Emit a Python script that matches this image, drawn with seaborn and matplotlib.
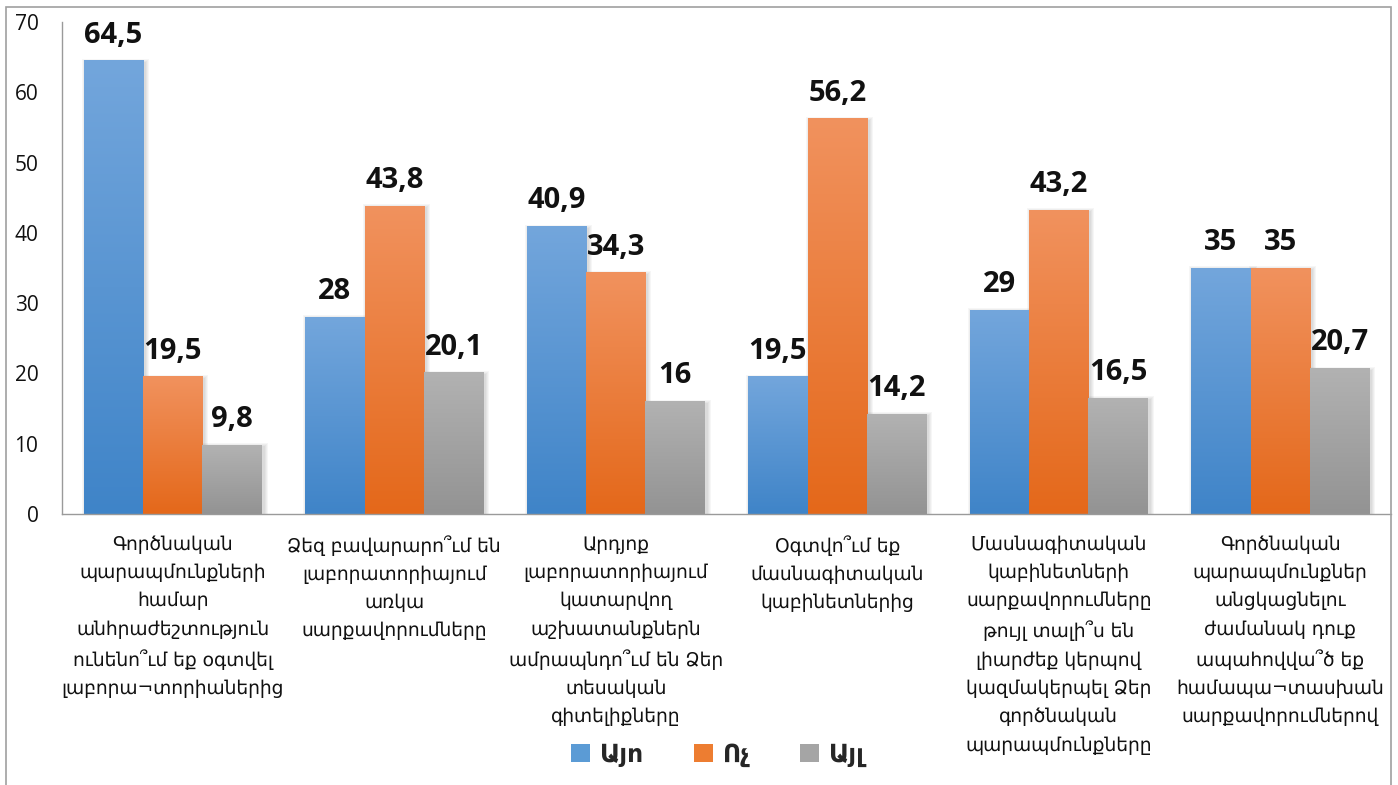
import numpy as np
import pandas as pd
import matplotlib
matplotlib.use("Agg")
import matplotlib.pyplot as plt
from matplotlib.colors import LinearSegmentedColormap
from matplotlib.patches import Rectangle, Patch
import seaborn as sns

# ── Data ───────────────────────────────────────────────────────
categories = [
    "Գործնական\nպարապմունքների\nհամար\nանհրաժեշտություն\nունենո՞ւմ եք օգտվել\nլաբորա¬տորիաներից",
    "Ձեզ բավարարո՞ւմ են\nլաբորատորիայում\nառկա\nսարքավորումները",
    "Արդյոք\nլաբորատորիայում\nկատարվող\nաշխատանքներն\nամրապնդո՞ւմ են Ձեր\nտեսական\nգիտելիքները",
    "Օգտվո՞ւմ եք\nմասնագիտական\nկաբինետներից",
    "Մասնագիտական\nկաբինետների\nսարքավորումները\nթույլ տալի՞ս են\nլիարժեք կերպով\nկազմակերպել Ձեր\nգործնական\nպարապմունքները",
    "Գործնական\nպարապմունքներ\nանցկացնելու\nժամանակ դուք\nապահովվա՞ծ եք\nհամապա¬տասխան\nսարքավորումներով",
]
series = ["Այո", "Ոչ", "Այլ"]
yes_vals = [64.5, 28, 40.9, 19.5, 29, 35]
no_vals = [19.5, 43.8, 34.3, 56.2, 43.2, 35]
other_vals = [9.8, 20.1, 16, 14.2, 16.5, 20.7]

colors = ["#5B9BD5", "#ED7D31", "#A5A5A5"]
# (bottom, top) of each bar gradient
gradients = [("#3F84C8", "#73A6DC"), ("#E4681A", "#F1925E"), ("#939393", "#B2B2B2")]

df = pd.DataFrame({
    "category": categories * 3,
    "series": [s for s in series for _ in categories],
    "value": yes_vals + no_vals + other_vals,
})

# ── Plot ───────────────────────────────────────────────────────
sns.set_style("white")
plt.rcParams["font.family"] = ["Open Sans", "DejaVu Sans"]

fig = plt.figure(figsize=(13.98, 7.85), dpi=100)
ax = fig.add_axes([62 / 1398, 1 - 514 / 785, (1391 - 62) / 1398, (514 - 22) / 785])

sns.barplot(data=df, x="category", y="value", hue="series", order=categories,
            hue_order=series, palette=colors, saturation=1, width=0.805,
            ax=ax, legend=False)

xlim, ylim = (-0.5, len(categories) - 0.5), (0, 70)
px_x = 1 / 221.5   # data units per pixel
px_y = 1 / 7.03

# soft shadow + gradient fill inside each bar
for bars, (c0, c1) in zip(ax.containers, gradients):
    cmap = LinearSegmentedColormap.from_list("g", [c0, c1])
    grad = np.linspace(0, 1, 256).reshape(-1, 1)
    for p in bars:
        x, y, w, h = p.get_x(), p.get_y(), p.get_width(), p.get_height()
        for k in range(1, 5):
            ax.add_patch(Rectangle((x - k * px_x + 2 * px_x, y),
                                   w + 2 * k * px_x, h + (k - 2) * px_y,
                                   facecolor="black", edgecolor="none",
                                   alpha=0.035, zorder=1.5))
        ax.imshow(grad, extent=[x, x + w, y, y + h], origin="lower", cmap=cmap,
                  aspect="auto", zorder=2, interpolation="bicubic")
        p.set_facecolor("none")
        p.set_edgecolor("none")

for bars in ax.containers:
    labels = [f"{v:g}".replace(".", ",") for v in bars.datavalues]
    ax.bar_label(bars, labels=labels, padding=8, fontsize=21, fontweight="bold",
                 color="#111111", family=["Open Sans", "DejaVu Sans"])

ax.set_xlim(xlim)
ax.set_ylim(ylim)
ax.set_yticks(range(0, 71, 10))
ax.set_xlabel("")
ax.set_ylabel("")

ax.tick_params(axis="y", length=0, pad=17, labelsize=15, labelcolor="#111111")
ax.tick_params(axis="x", length=0, pad=15)
ax.set_xticks(range(len(categories)))
ax.set_xticklabels(categories, fontsize=13.4, family=["DejaVu Sans"],
                   linespacing=1.62, va="top", color="#111111")

for side in ["top", "right"]:
    ax.spines[side].set_visible(False)
for side in ["left", "bottom"]:
    ax.spines[side].set_color("#9A9A9A")
    ax.spines[side].set_linewidth(1.0)

handles = [Patch(facecolor=c, edgecolor="none") for c in colors]
fig.legend(handles, series, loc="center", bbox_to_anchor=(718 / 1398, 1 - 755 / 785),
           ncol=3, frameon=False, handlelength=0.75, handleheight=0.75,
           handletextpad=0.4, columnspacing=2.0,
           prop={"family": ["DejaVu Sans"], "weight": "bold", "size": 18})

# outer chart frame (bottom edge lies below the image)
fig.patches.append(Rectangle((6, -10), 1385, 788, transform=None, fill=False,
                             edgecolor="#A0A0A0", linewidth=1.2))

fig.savefig("out.png", dpi=100)
plt.close(fig)
